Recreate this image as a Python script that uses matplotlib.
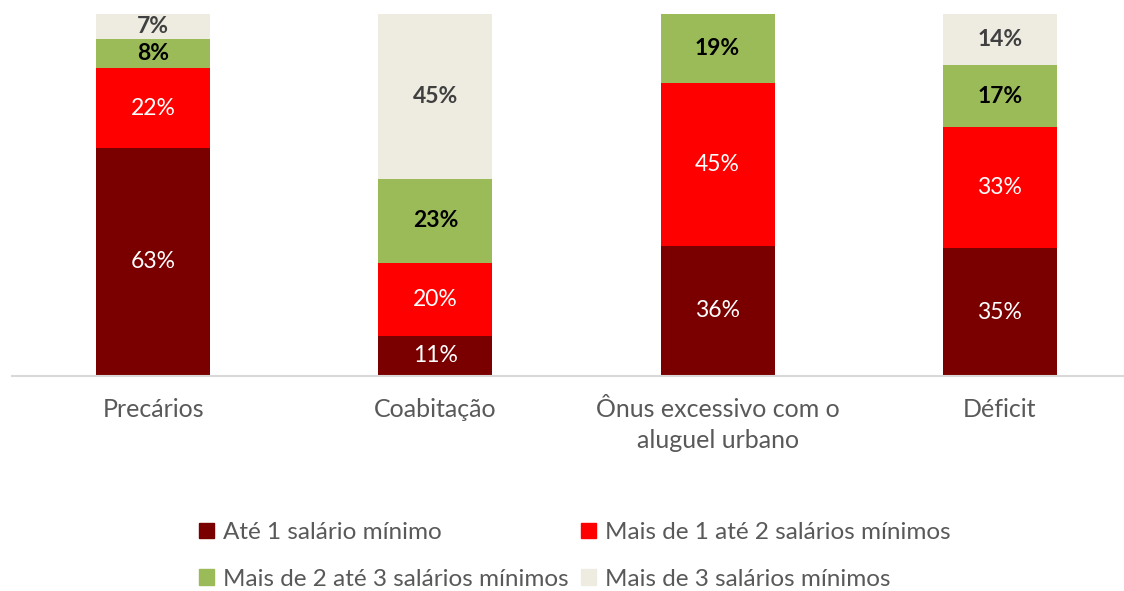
import numpy as np
import matplotlib
matplotlib.use("Agg")
import matplotlib.pyplot as plt
from matplotlib.patches import Patch

plt.rcParams['font.family'] = ['Lato', 'DejaVu Sans']

categories = ['Precários', 'Coabitação', 'Ônus excessivo com o\naluguel urbano', 'Déficit']
series_names = ['Até 1 salário mínimo', 'Mais de 1 até 2 salários mínimos',
                'Mais de 2 até 3 salários mínimos', 'Mais de 3 salários mínimos']
ate1 = [63, 11, 36, 35]
de1a2 = [22, 20, 45, 33]
de2a3 = [8, 23, 19, 17]
mais3 = [7, 45, 0, 14]

colors = ['#7A0000', '#FF0000', '#9BBB59', '#EEECE1']
label_colors = ['white', 'white', 'black', '#404040']
label_bold = [False, False, True, True]

data = np.array([ate1, de1a2, de2a3, mais3], dtype=float)
share = data / data.sum(axis=0)  # 100% stacked

fig = plt.figure(figsize=(11.24, 5.91), dpi=100)
ax = fig.add_axes([12 / 1124, 215 / 591, 1129 / 1124, 362 / 591])

x = np.arange(len(categories))
bottom = np.zeros(len(categories))
handles = []
for i, name in enumerate(series_names):
    bars = ax.bar(x, share[i], 0.404, bottom=bottom, color=colors[i],
                  edgecolor='none', zorder=2)
    handles.append(Patch(color=colors[i], label=name))
    for j, b in enumerate(bars):
        if data[i, j] <= 0:
            continue
        ax.text(x[j], bottom[j] + share[i, j] / 2, f'{int(data[i, j])}%',
                ha='center', va='center', fontsize=16.5, color=label_colors[i],
                fontweight='bold' if label_bold[i] else 'normal')
    bottom += share[i]

ax.set_xlim(-0.5, 3.5)
ax.set_ylim(0, 1)
ax.set_yticks([])
ax.set_xticks(x)
ax.set_xticklabels(categories, fontsize=18, color='#595959', linespacing=1.4)
ax.tick_params(axis='x', length=0, pad=16)
for s in ['top', 'right', 'left']:
    ax.spines[s].set_visible(False)
ax.spines['bottom'].set_color('#D9D9D9')
ax.spines['bottom'].set_linewidth(1.5)

order = [0, 2, 1, 3]
leg = fig.legend([handles[k] for k in order], [series_names[k] for k in order],
                 ncol=2, loc='upper left', bbox_to_anchor=(199 / 1124, 1 - 522 / 591),
                 frameon=False, fontsize=17.5, handlelength=0.6, handleheight=0.6,
                 handletextpad=0.4, columnspacing=0.5, labelspacing=1.05,
                 labelcolor='#595959', borderaxespad=0, borderpad=0)

fig.savefig('out.png', dpi=100)
